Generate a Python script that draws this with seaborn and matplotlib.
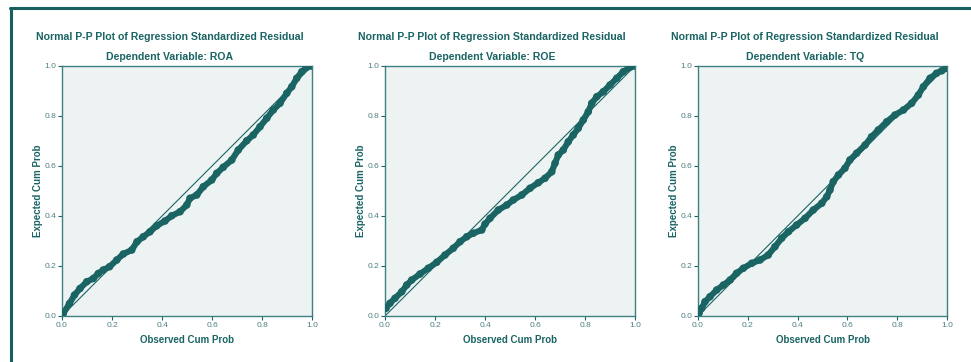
import matplotlib
matplotlib.use("Agg")
import matplotlib.pyplot as plt
from matplotlib.lines import Line2D
import seaborn as sns
import pandas as pd

# Normal P-P plots
roa_obs = [0.005, 0.03, 0.05, 0.072, 0.099, 0.125, 0.145, 0.165, 0.19, 0.219,
           0.245, 0.279, 0.30, 0.325, 0.352, 0.379, 0.412, 0.439, 0.472, 0.499,
           0.512, 0.539, 0.565, 0.599, 0.619, 0.645, 0.679, 0.705, 0.739, 0.765,
           0.792, 0.819, 0.845, 0.872, 0.899, 0.919, 0.939, 0.959, 0.979, 1.0]
roa_exp = [0.01, 0.05, 0.084, 0.11, 0.137, 0.15, 0.17, 0.184, 0.197, 0.224,
           0.248, 0.264, 0.297, 0.317, 0.337, 0.361, 0.38, 0.401, 0.417, 0.444,
           0.471, 0.484, 0.517, 0.544, 0.571, 0.595, 0.624, 0.664, 0.701, 0.724,
           0.757, 0.791, 0.824, 0.851, 0.891, 0.917, 0.951, 0.977, 0.995, 1.0]

roe_obs = [0.004, 0.02, 0.04, 0.067, 0.087, 0.107, 0.14, 0.173, 0.207, 0.24,
           0.273, 0.30, 0.327, 0.353, 0.387, 0.40, 0.42, 0.453, 0.487, 0.513,
           0.547, 0.58, 0.613, 0.64, 0.667, 0.68, 0.693, 0.713, 0.733, 0.753,
           0.773, 0.793, 0.813, 0.827, 0.847, 0.873, 0.90, 0.927, 0.953, 0.98, 1.0]
roe_exp = [0.031, 0.051, 0.071, 0.097, 0.124, 0.144, 0.168, 0.191, 0.215, 0.244,
           0.271, 0.297, 0.317, 0.331, 0.344, 0.368, 0.391, 0.424, 0.444, 0.464,
           0.484, 0.511, 0.533, 0.551, 0.577, 0.611, 0.644, 0.664, 0.697, 0.724,
           0.751, 0.784, 0.817, 0.851, 0.877, 0.897, 0.924, 0.951, 0.977, 0.995, 1.0]

tq_obs = [0.004, 0.015, 0.028, 0.048, 0.075, 0.102, 0.129, 0.155, 0.182, 0.216,
          0.249, 0.282, 0.309, 0.336, 0.363, 0.396, 0.43, 0.463, 0.497, 0.517,
          0.53, 0.543, 0.564, 0.59, 0.61, 0.637, 0.671, 0.697, 0.724, 0.758,
          0.791, 0.825, 0.858, 0.885, 0.905, 0.932, 0.958, 0.979, 0.999]
tq_exp = [0.011, 0.031, 0.057, 0.077, 0.104, 0.124, 0.144, 0.171, 0.191, 0.211,
          0.224, 0.244, 0.277, 0.311, 0.337, 0.364, 0.391, 0.424, 0.451, 0.477,
          0.504, 0.537, 0.564, 0.591, 0.624, 0.651, 0.684, 0.717, 0.744, 0.777,
          0.804, 0.824, 0.851, 0.884, 0.917, 0.951, 0.971, 0.981, 0.991]

dep_vars = ["ROA", "ROE", "TQ"]
ticks = [0.0, 0.2, 0.4, 0.6, 0.8, 1.0]

TEAL = "#1b6464"
FRAME = "#17605f"
TICKC = "#4f7f80"
BG = "#edf2f2"

sns.set_style("white")
plt.rcParams["font.family"] = ["Liberation Sans", "DejaVu Sans"]

fig = plt.figure(figsize=(9.71, 3.62), dpi=100)
W, H = 971, 362

# frame lines (top and left)
fig.add_artist(Line2D([10 / W, 1.0], [1 - 8 / H, 1 - 8 / H], color=FRAME, lw=2.2))
fig.add_artist(Line2D([11 / W, 11 / W], [0.0, 1 - 8 / H], color=FRAME, lw=2.2))

panels = [(roa_obs, roa_exp, 62, 250, 170),
          (roe_obs, roe_exp, 385, 250, 492),
          (tq_obs, tq_exp, 698, 249, 805)]

for (obs, exp, left, width, tx), dv in zip(panels, dep_vars):
    ax = fig.add_axes([left / W, (H - 316) / H, width / W, 250 / H])
    ax.set_facecolor(BG)
    df = pd.DataFrame({"obs": obs, "exp": exp})

    # reference diagonal
    ax.plot([0, 1], [0, 1], color=TEAL, lw=0.8, zorder=2)
    sns.lineplot(data=df, x="obs", y="exp", ax=ax, color=TEAL, lw=4.4,
                 sort=False, estimator=None, zorder=3)
    sns.scatterplot(data=df, x="obs", y="exp", ax=ax, facecolor="none",
                    edgecolor=TEAL, s=18, linewidth=1.2, zorder=4)

    ax.set_xlim(0, 1)
    ax.set_ylim(0, 1)
    ax.set_xticks(ticks)
    ax.set_yticks(ticks)
    ax.set_xticklabels([f"{t:.1f}" for t in ticks])
    ax.set_yticklabels([f"{t:.1f}" for t in ticks])
    ax.tick_params(axis="both", direction="out", length=3, width=0.8,
                   color=TEAL, labelcolor=TICKC, labelsize=6, pad=1,
                   bottom=True, left=True)
    for sp in ax.spines.values():
        sp.set_color("#3f8080")
        sp.set_linewidth(1.0)

    ax.set_xlabel("Observed Cum Prob", fontsize=7, fontweight="bold",
                  color=TEAL, labelpad=4.5)
    ax.set_ylabel("Expected Cum Prob", fontsize=7, fontweight="bold",
                  color=TEAL, labelpad=1)

    fig.text(tx / W, 1 - 37 / H, "Normal P-P Plot of Regression Standardized Residual",
             ha="center", va="center", fontsize=7.6, fontweight="bold", color=TEAL)
    fig.text(tx / W, 1 - 57 / H, f"Dependent Variable: {dv}",
             ha="center", va="center", fontsize=7.6, fontweight="bold", color=TEAL)

fig.savefig("out.png", dpi=100)
